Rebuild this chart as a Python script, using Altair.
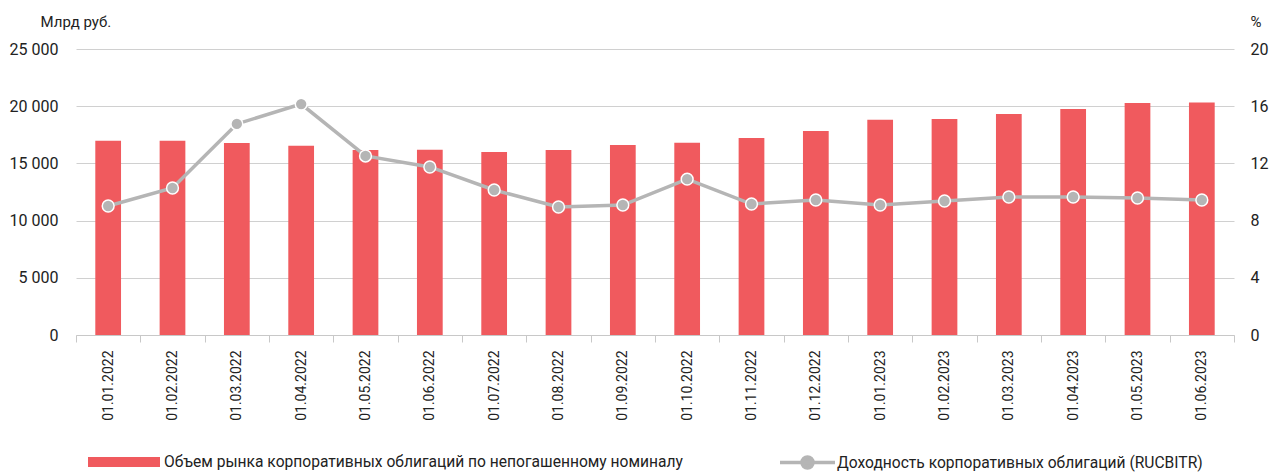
import altair as alt
import pandas as pd

dates = ["01.01.2022", "01.02.2022", "01.03.2022", "01.04.2022", "01.05.2022", "01.06.2022",
         "01.07.2022", "01.08.2022", "01.09.2022", "01.10.2022", "01.11.2022", "01.12.2022",
         "01.01.2023", "01.02.2023", "01.03.2023", "01.04.2023", "01.05.2023", "01.06.2023"]
volume = [16980, 16980, 16780, 16540, 16180, 16200, 16000, 16170, 16600, 16800, 17220, 17830,
          18820, 18880, 19320, 19750, 20280, 20330]
yield_pct = [9.02, 10.28, 14.76, 16.15, 12.52, 11.75, 10.14, 8.95, 9.09, 10.9, 9.16, 9.44,
             9.09, 9.37, 9.65, 9.65, 9.58, 9.44]

bar_name = "Объем рынка корпоративных облигаций по непогашенному номиналу"
line_name = "Доходность корпоративных облигаций (RUCBITR)"

df = pd.DataFrame({"date": dates, "volume": volume, "yld": yield_pct,
                   "s1": bar_name, "s2": line_name})

FONT = "Roboto"
TXT = "#222222"

x = alt.X("date:N", sort=dates, title=None,
          scale=alt.Scale(paddingInner=0, paddingOuter=0),
          axis=alt.Axis(labelAngle=270, labelFontSize=14, labelFont=FONT, labelColor=TXT,
                        tickBand="extent", ticks=True, tickSize=7, tickColor="#C8C8C8",
                        domainColor="#C8C8C8", labelPadding=8, grid=False))

bars = alt.Chart(df).mark_bar(width=alt.RelativeBandSize(0.4), color="#F05A5E").encode(
    x=x,
    y=alt.Y("volume:Q", scale=alt.Scale(domain=[0, 25000]),
            title="Млрд руб.",
            axis=alt.Axis(values=[0, 5000, 10000, 15000, 20000, 25000],
                          labelExpr="replace(format(datum.value, ','), ',', ' ')",
                          labelFontSize=16, labelFont=FONT, labelColor=TXT, labelPadding=18,
                          ticks=False, domain=False, grid=True, gridColor="#D0D0D0",
                          titleAngle=0, titleAlign="left", titleBaseline="alphabetic",
                          titleX=-36, titleY=-23, titleFont=FONT, titleFontSize=15,
                          titleFontWeight="normal", titleColor=TXT)),
    color=alt.Color("s1:N", scale=alt.Scale(range=["#F05A5E"]), title=None,
                    legend=alt.Legend(orient="none", legendX=12, legendY=377,
                                      symbolType="M-1,-0.14H1V0.14H-1Z", symbolSize=5184,
                                      symbolStrokeWidth=0, labelFontSize=15.6, labelFont=FONT,
                                      labelColor=TXT, labelLimit=800, padding=0))
)

line_y = alt.Y("yld:Q", scale=alt.Scale(domain=[0, 20]), title="%",
               axis=alt.Axis(orient="right", values=[0, 4, 8, 12, 16, 20],
                             labelFontSize=16, labelFont=FONT, labelColor=TXT, labelPadding=16,
                             ticks=False, domain=False, grid=False,
                             titleAngle=0, titleAlign="left", titleBaseline="alphabetic",
                             titleX=16, titleY=-23, titleFont=FONT, titleFontSize=15,
                             titleFontWeight="normal", titleColor=TXT))

line = alt.Chart(df).mark_line(color="#B5B5B5", strokeWidth=3.5).encode(
    x=x, y=line_y,
    stroke=alt.Stroke("s2:N", scale=alt.Scale(range=["#B5B5B5"]), title=None,
                      legend=alt.Legend(orient="none", legendX=702, legendY=384,
                                        symbolType="M-1,0H1M-0.2,0A0.2,0.2 0 1,0 0.2,0A0.2,0.2 0 1,0 -0.2,0Z",
                                        symbolSize=3025, symbolStrokeWidth=3.5,
                                        symbolFillColor="#B5B5B5", labelOffset=0,
                                        labelFontSize=15.6, labelFont=FONT, labelColor=TXT,
                                        labelLimit=800, padding=0))
)

points = alt.Chart(df).mark_point(filled=True, fill="#B5B5B5", stroke="white",
                                  strokeWidth=1.5, size=140, opacity=1).encode(
    x=x, y=line_y
)

chart = alt.layer(bars, alt.layer(line, points)).resolve_scale(
    y="independent", color="independent", stroke="independent"
).properties(
    width=1158, height=286,
    autosize=alt.AutoSizeParams(type="none"),
    padding={"left": 76, "top": 49, "right": 37, "bottom": 139},
    background="white"
).configure_view(stroke=None)

chart.save("out.html", embed_options={"renderer": "svg", "actions": False})
